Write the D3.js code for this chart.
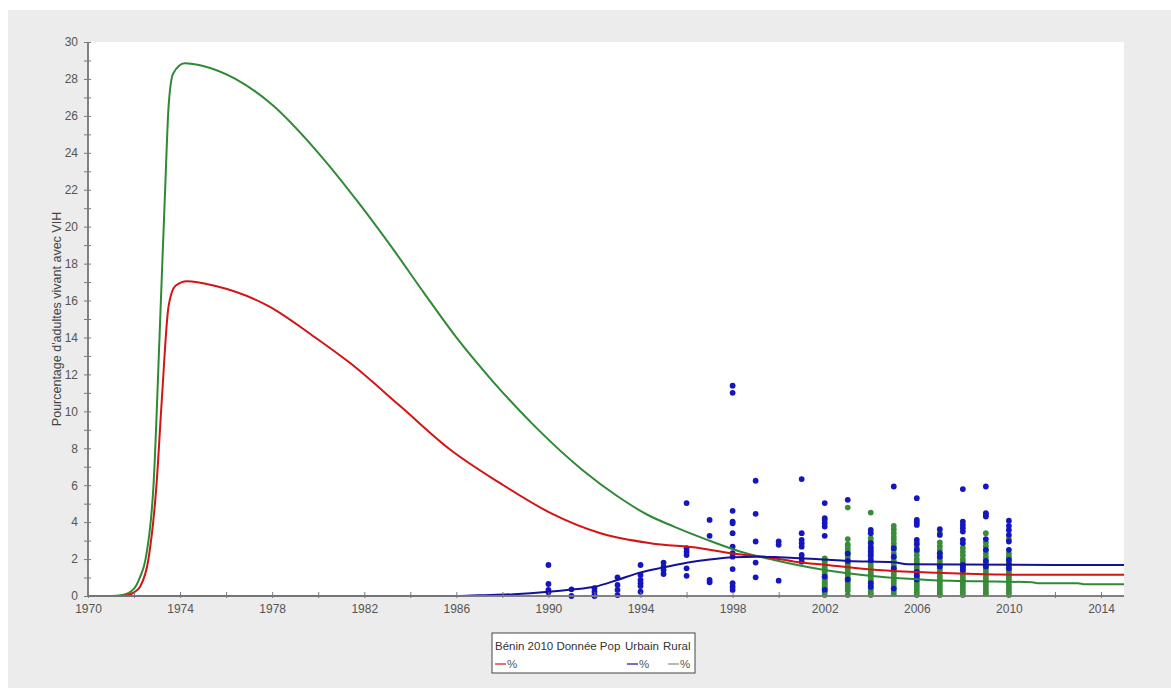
<!DOCTYPE html>
<html>
<head>
<meta charset="utf-8">
<script src="https://cdn.jsdelivr.net/npm/d3@7"></script>
<style>
  html, body { margin: 0; padding: 0; background: #fff; }
  svg { display: block; font-family: "Liberation Sans", Arial, sans-serif; }
</style>
</head>
<body>
<div id="chart"></div>
<script>
// chart data
const xTicks = [1970, 1974, 1978, 1982, 1986, 1990, 1994, 1998, 2002, 2006, 2010, 2014];
const xMinorTicks = [1972, 1976, 1980, 1984, 1988, 1992, 1996, 2000, 2004, 2008, 2012];
const yTicks = [0, 2, 4, 6, 8, 10, 12, 14, 16, 18, 20, 22, 24, 26, 28, 30];
const yMinorTicks = [1, 3, 5, 7, 9, 11, 13, 15, 17, 19, 21, 23, 25, 27, 29];

// Bénin 2010 (national) curve, [year, %]
const beninCurve = [
  [1970, 0], [1971.5, 0], [1972, 0.2], [1972.26, 0.5], [1972.62, 1.95], [1972.98, 6.1],
  [1973.2, 10.5], [1973.5, 15.7], [1973.8, 16.8], [1974.3, 17.05], [1975.5, 16.8],
  [1977.84, 15.7], [1979.87, 14.0], [1981.4, 12.6], [1983.57, 10.27], [1985.74, 7.92],
  [1987.9, 6.11], [1990.1, 4.49], [1992.26, 3.4], [1994.43, 2.86], [1996.6, 2.59],
  [1997.9, 2.32], [1999.8, 2.05], [2000.7, 1.86], [2002.1, 1.68], [2004.3, 1.41],
  [2006.5, 1.27], [2009.4, 1.17], [2010.5, 1.15], [2015, 1.15]
];

// Urbain curve
const urbainCurve = [
  [1970, 0], [1986, 0], [1987, 0.04], [1988.5, 0.1], [1990, 0.23], [1991, 0.35],
  [1992, 0.5], [1993, 0.87], [1994, 1.28], [1995, 1.55], [1996, 1.8], [1997, 1.98],
  [1998, 2.1], [1999, 2.13], [2000, 2.1], [2001.8, 1.99], [2003, 1.9], [2005, 1.83],
  [2005.6, 1.72], [2008, 1.7], [2015, 1.68]
];

// Rural curve
const ruralCurve = [
  [1970, 0], [1971, 0], [1971.5, 0.05], [1972, 0.4], [1972.25, 1.0], [1972.5, 2.0],
  [1972.85, 6.1], [1973.13, 14.8], [1973.35, 22.0], [1973.5, 26.5], [1973.7, 28.3],
  [1974.2, 28.85], [1975, 28.7], [1976.4, 28.0], [1978, 26.6], [1980, 24.0],
  [1981.75, 21.3], [1983.3, 18.7], [1984.6, 16.4], [1986, 14.0], [1987.6, 11.6],
  [1989.4, 9.2], [1991.5, 6.8], [1993, 5.4], [1994.3, 4.4], [1995.45, 3.76], [1996.9, 3.04],
  [1998.35, 2.4], [1999.8, 1.95], [2001.8, 1.45], [2004.3, 1.05], [2006.5, 0.87],
  [2009.4, 0.78], [2011, 0.75], [2011.3, 0.69], [2013, 0.69], [2013.3, 0.63], [2015, 0.63]
];

// surveillance points, urban sites: [year, values]
const urbainPoints = [
  [1990, [1.68, 0.65, 0.33, 0.2]],
  [1991, [0.36, 0.0]],
  [1992, [0.42, 0.23, 0.05, 0.0]],
  [1993, [1.01, 0.6, 0.33, 0.05]],
  [1994, [1.68, 1.14, 0.87, 0.69, 0.54, 0.23]],
  [1995, [1.81, 1.59, 1.41, 1.19]],
  [1996, [5.03, 2.59, 2.4, 2.22, 1.5, 1.09]],
  [1997, [4.12, 3.26, 0.87, 0.74]],
  [1998, [11.39, 11.0, 4.61, 4.03, 3.94, 3.4, 2.67, 2.32, 2.13, 1.46, 0.69, 0.5, 0.33]],
  [1999, [6.24, 4.45, 2.95, 1.81, 1.01]],
  [2000, [2.95, 2.77, 0.83]],
  [2001, [6.33, 3.4, 3.04, 2.86, 2.67, 2.22, 2.04, 1.86]],
  [2002, [5.03, 4.22, 4.12, 3.94, 3.76, 3.26, 1.05, 0.33]],
  [2003, [5.21, 2.3, 1.9, 0.9]],
  [2004, [3.58, 3.4, 2.86, 2.6, 2.4, 2.2, 1.95, 0.7, 0.5]],
  [2005, [5.93, 2.59, 2.13, 1.5, 0.4]],
  [2006, [5.3, 4.12, 3.98, 3.85, 3.04, 2.8, 2.5, 1.3, 1.1, 0.9]],
  [2007, [3.62, 3.31, 2.32, 2.13, 1.6]],
  [2008, [5.79, 4.03, 3.85, 3.67, 3.49, 3.04, 2.86, 1.68, 1.55, 1.41]],
  [2009, [5.93, 4.49, 4.4, 4.3, 3.08, 2.5, 1.9, 1.6]],
  [2010, [4.08, 3.8, 3.58, 3.31, 2.95, 2.5, 1.95, 1.7, 1.5]]
];

// surveillance points, rural sites
const ruralPoints = [
  [2002, [2.04, 1.95, 1.86, 1.72, 1.59, 1.45, 1.32, 1.18, 1.05, 0.95, 0.87, 0.78, 0.69, 0.6, 0.5, 0.42, 0.33, 0.2, 0.05]],
  [2003, [4.79, 3.08, 2.8, 2.67, 2.5, 2.35, 2.22, 2.08, 1.95, 1.8, 1.68, 1.55, 1.41, 1.28, 1.14, 1.0, 0.87, 0.74, 0.6, 0.45, 0.3, 0.05]],
  [2004, [4.52, 3.13, 2.95, 2.7, 2.5, 2.3, 2.1, 1.9, 1.75, 1.59, 1.45, 1.3, 1.18, 1.05, 0.92, 0.8, 0.68, 0.55, 0.42, 0.3, 0.15, 0.05]],
  [2005, [3.8, 3.6, 3.4, 3.2, 3.04, 2.85, 2.7, 2.5, 2.3, 2.1, 1.9, 1.75, 1.6, 1.45, 1.3, 1.15, 1.0, 0.85, 0.7, 0.55, 0.4, 0.25, 0.1]],
  [2006, [2.9, 2.6, 2.4, 2.2, 2.0, 1.85, 1.7, 1.55, 1.4, 1.25, 1.1, 0.95, 0.8, 0.65, 0.5, 0.35, 0.2, 0.05]],
  [2007, [3.4, 2.9, 2.7, 2.5, 2.3, 2.1, 1.95, 1.8, 1.65, 1.5, 1.35, 1.2, 1.05, 0.9, 0.75, 0.6, 0.45, 0.3, 0.15, 0.05]],
  [2008, [2.6, 2.4, 2.2, 2.0, 1.85, 1.7, 1.55, 1.4, 1.25, 1.1, 0.95, 0.8, 0.65, 0.5, 0.35, 0.2, 0.05]],
  [2009, [3.4, 2.9, 2.7, 2.5, 2.3, 2.1, 1.9, 1.75, 1.6, 1.45, 1.3, 1.15, 1.0, 0.85, 0.7, 0.55, 0.4, 0.25, 0.1]],
  [2010, [3.08, 2.3, 2.15, 2.0, 1.85, 1.7, 1.55, 1.4, 1.25, 1.1, 0.95, 0.8, 0.65, 0.5, 0.35, 0.2, 0.05]]
];

const legendCols = ['Bénin 2010 Donnée Pop', 'Urbain', 'Rural'];

const colors = {
  benin: '#d41414',
  urbain: '#12129a',
  rural: '#2f8a35',
  urbainDot: '#1616c0',
  ruralDot: '#3a8c3a'
};

const W = 1171, H = 688;
const svg = d3.select('#chart').append('svg')
  .attr('width', W)
  .attr('height', H);

// grey panel
svg.append('rect')
  .attr('x', 8).attr('y', 10)
  .attr('width', W - 8).attr('height', H - 10)
  .attr('fill', '#ececec');

const x = d3.scaleLinear().domain([1970, 2015]).range([88, 1124]);
const y = d3.scaleLinear().domain([0, 30]).range([596, 42]);

// plot area
svg.append('rect')
  .attr('x', x(1970)).attr('y', y(30))
  .attr('width', x(2015) - x(1970)).attr('height', y(0) - y(30))
  .attr('fill', '#fff');

const plot = svg.append('g');

// scatter: rural first, urban on top
const ruralFlat = ruralPoints.flatMap(([yr, vals]) => vals.map(v => [yr, v]));
const urbainFlat = urbainPoints.flatMap(([yr, vals]) => vals.map(v => [yr, v]));

plot.selectAll('circle.rural')
  .data(ruralFlat)
  .enter().append('circle')
  .attr('class', 'rural')
  .attr('cx', d => x(d[0]))
  .attr('cy', d => y(d[1]))
  .attr('r', 2.9)
  .attr('fill', colors.ruralDot);

plot.selectAll('circle.urbain')
  .data(urbainFlat)
  .enter().append('circle')
  .attr('class', 'urbain')
  .attr('cx', d => x(d[0]))
  .attr('cy', d => y(d[1]))
  .attr('r', 2.9)
  .attr('fill', colors.urbainDot);

const line = d3.line()
  .x(d => x(d[0]))
  .y(d => y(d[1]))
  .curve(d3.curveMonotoneX);

const series = [
  { data: ruralCurve, color: colors.rural },
  { data: beninCurve, color: colors.benin },
  { data: urbainCurve, color: colors.urbain }
];

plot.selectAll('path.curve')
  .data(series)
  .enter().append('path')
  .attr('class', 'curve')
  .attr('d', d => line(d.data))
  .attr('fill', 'none')
  .attr('stroke', d => d.color)
  .attr('stroke-width', 2);

// axes
const axisColor = '#7a7a7a';
const textColor = '#555';

const yAxis = svg.append('g')
  .attr('transform', `translate(${x(1970)},0)`)
  .call(d3.axisLeft(y).tickValues(yTicks).tickSize(4).tickPadding(6).tickFormat(d3.format('d')));
yAxis.append('g').call(d3.axisLeft(y).tickValues(yMinorTicks).tickSize(4).tickFormat(''));
yAxis.selectAll('.tick line').attr('x1', 3).attr('stroke', axisColor);
yAxis.selectAll('.domain').attr('stroke', axisColor).attr('stroke-width', 1.5).attr('d', `M0,${y(0)}V${y(30)}`);
yAxis.selectAll('text').attr('fill', textColor).style('font-size', '12px').style('font-family', '"Liberation Sans", Arial, sans-serif');

const xAxis = svg.append('g')
  .attr('transform', `translate(0,${y(0)})`)
  .call(d3.axisBottom(x).tickValues(xTicks).tickSize(2).tickPadding(6).tickFormat(d3.format('d')));
xAxis.append('g').call(d3.axisBottom(x).tickValues(xMinorTicks).tickSize(2).tickFormat(''));
xAxis.selectAll('.tick line').attr('y1', -4).attr('stroke', axisColor);
xAxis.selectAll('.domain').attr('stroke', axisColor).attr('stroke-width', 1.5).attr('d', `M${x(1970)},0H${x(2015)}`);
xAxis.selectAll('text').attr('fill', textColor).style('font-size', '12px').style('font-family', '"Liberation Sans", Arial, sans-serif');

// y title
svg.append('text')
  .attr('transform', `translate(61,${(y(0) + y(30)) / 2}) rotate(-90)`)
  .attr('text-anchor', 'middle')
  .attr('fill', '#444')
  .style('font-size', '12.5px')
  .text("Pourcentage d'adultes vivant avec VIH");

// legend
const leg = svg.append('g');
leg.append('rect')
  .attr('x', 492).attr('y', 633)
  .attr('width', 203).attr('height', 40)
  .attr('fill', '#fff')
  .attr('stroke', '#444');

const legX = [495, 625, 663];
const legLineColors = [colors.benin, colors.urbain, '#888'];
const legLineX = [495, 627, 668];

legendCols.forEach((name, i) => {
  leg.append('text')
    .attr('x', legX[i]).attr('y', 650)
    .attr('fill', '#333')
    .style('font-size', '11.5px')
    .text(name);
  leg.append('line')
    .attr('x1', legLineX[i]).attr('x2', legLineX[i] + 11)
    .attr('y1', 664).attr('y2', 664)
    .attr('stroke', legLineColors[i])
    .attr('stroke-width', 1.2);
  leg.append('text')
    .attr('x', legLineX[i] + 12).attr('y', 668)
    .attr('fill', '#555')
    .style('font-size', '11.5px')
    .text('%');
});
</script>
</body>
</html>
